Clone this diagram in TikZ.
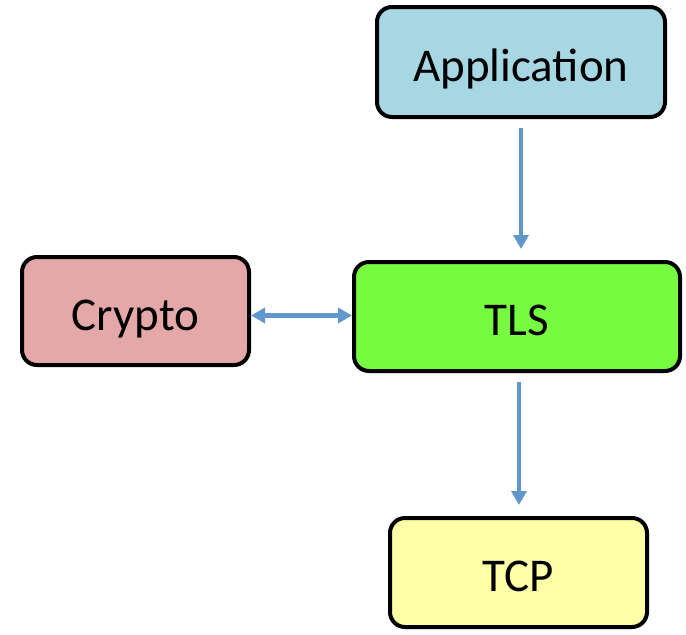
\documentclass[tikz,border=0pt]{standalone}
\usepackage{fontspec}
\setmainfont{Carlito}
\usetikzlibrary{arrows.meta}
\definecolor{appblue}{HTML}{A6D7E3}
\definecolor{cryptopink}{HTML}{E3A8A7}
\definecolor{tlsgreen}{HTML}{77FB41}
\definecolor{tcpyellow}{HTML}{FFFFA8}
\definecolor{linkblue}{HTML}{6097CC}
\tikzset{
  layer/.style={draw=black, line width=4pt, rounded corners=15pt, inner sep=0pt,
    font=\fontsize{47}{56}\selectfont, text=black, text height=38pt, text depth=0pt},
  link/.style={draw=linkblue, line width=4.5pt, -{Triangle[width=15pt,length=14pt]}},
  twoway/.style={draw=linkblue, line width=4.5pt, {Triangle[width=15pt,length=14pt]}-{Triangle[width=15pt,length=14pt]}}
}
\begin{document}
\begin{tikzpicture}[x=1pt,y=-1pt]
\useasboundingbox (0,0) rectangle (686,635);
\node[layer, fill=appblue, minimum width=288pt, minimum height=110pt] (app) at (521,62) {Application};
\node[layer, fill=cryptopink, minimum width=227pt, minimum height=108pt] (crypto) at (135.5,311) {Crypto};
\node[layer, fill=tlsgreen, minimum width=326pt, minimum height=109pt] (tls) at (517,316.5) {TLS};
\node[layer, fill=tcpyellow, minimum width=257pt, minimum height=109pt] (tcp) at (518.5,572.5) {TCP};
% connectors
\draw[link, shorten <=9pt, shorten >=11pt] (app.south) -- (app.south |- tls.north);
\draw[link, shorten <=9pt, shorten >=11pt] (tls.south -| 519,0) -- (tcp.north -| 519,0);
\draw[twoway] (crypto.east |- 0,315.5) -- (tls.west |- 0,315.5);
\end{tikzpicture}
\end{document}
